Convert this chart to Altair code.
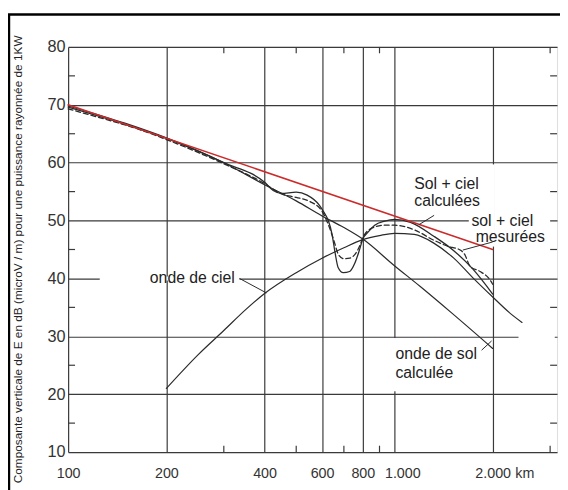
import altair as alt
import pandas as pd

# ---------------- data ----------------
x_ticks = [100, 200, 400, 600, 800, 1000, 2000]
y_ticks = [10, 20, 30, 40, 50, 60, 70, 80]

# red reference line
red_km = [100, 2000]
red_db = [70.0, 45.0]

# onde de sol calculée (ground wave)
sol_km = [100, 150, 200, 300, 400, 500, 600, 700, 800, 1000, 1200, 1500, 2000]
sol_db = [69.8, 66.8, 64.3, 60.0, 56.2, 53.4, 50.8, 48.8, 46.8, 42.2, 38.6, 34.0, 27.9]

# onde de ciel (sky wave)
ciel_km = [200, 250, 300, 350, 400, 500, 600, 700, 800, 900, 1000, 1150, 1320, 1520, 1740, 2000, 2250, 2460]
ciel_db = [21.0, 26.8, 31.0, 34.6, 37.4, 41.0, 43.5, 45.3, 46.7, 47.4, 47.8, 47.6, 46.1, 43.5, 40.1, 36.8, 34.1, 32.4]

# sol + ciel calculées
calc_km = [100, 150, 200, 300, 400, 425, 450, 500, 540, 590, 607, 627, 643, 658, 672, 697, 729, 757, 781,
           800, 830, 870, 934, 1000, 1120, 1320, 1520, 1740, 2000]
calc_db = [69.6, 66.6, 64.2, 60.0, 56.6, 55.2, 54.7, 54.9, 54.4, 52.6, 51.5, 50.0, 47.8, 44.4, 41.9, 41.0, 41.2,
           42.7, 44.9, 46.8, 48.0, 49.2, 49.9, 50.2, 49.7, 47.3, 44.8, 41.6, 37.3]

# sol + ciel mesurées (dashed)
mes_km = [100, 130, 160, 200, 300, 400, 450, 500, 550, 600, 630, 652, 674, 700, 730, 760, 781, 803, 847, 934,
          1000, 1150, 1320, 1450, 1590, 1640, 1705, 1830, 1960, 2000]
mes_db = [69.3, 67.5, 66.0, 64.0, 59.8, 56.4, 54.6, 54.0, 53.3, 51.6, 49.0, 46.6, 44.1, 43.4, 43.5, 44.3, 45.5,
          47.2, 48.6, 49.2, 49.2, 48.4, 46.6, 45.6, 44.9, 44.2, 42.1, 41.2, 39.8, 39.0]

# annotations
label_text = ["onde de ciel", "Sol + ciel", "calculées", "sol + ciel", "mesurées", "onde de sol", "calculée"]
label_km = [178, 1150, 1150, 1722, 1774, 1007, 1007]
label_db = [40.0, 56.3, 53.3, 49.9, 47.1, 27.0, 23.6]

# leader lines (from label to curve)
lead_km = [335, 1323, 2000, 1850]
lead_db = [40.0, 50.9, 46.3, 27.6]
lead_km2 = [405, 1190, 1620, 1985]
lead_db2 = [37.5, 49.3, 44.9, 29.2]

# minor ticks
minor_x = [300, 500, 700, 900, 3000]
minor_y = [15, 25, 35, 45, 55, 65, 75]

X_MIN, X_MAX = 100, 3150
Y_MIN, Y_MAX = 10, 80

INK = "#2a2a2a"
FONT = "Liberation Sans"

xscale = alt.Scale(type="log", domain=[X_MIN, X_MAX], nice=False)
yscale = alt.Scale(domain=[Y_MIN, Y_MAX], nice=False, zero=False)

xaxis = alt.Axis(values=x_ticks,
                 labelExpr="datum.value >= 1000 ? format(datum.value/1000, 'd') + '.000' : format(datum.value, 'd')",
                 grid=True, ticks=False, domain=False, labelFontSize=14.5, labelColor="#333",
                 labelPadding=15, labelFont=FONT, labelOverlap=False, labelFlush=False,
                 labelOffset={"condition": {"test": "datum.value == 1000", "value": 8}, "value": 0},
                 gridColor="#3a3a3a", gridWidth=1.2, title=None)
ytitle = "Composante verticale de E en dB (microV / m) pour une puissance rayonnée de 1KW"
yaxis = alt.Axis(values=y_ticks, grid=True, ticks=False, domain=False, labelFontSize=16.5,
                 labelColor="#333", labelFont=FONT, labelPadding=3,
                 gridColor="#3a3a3a", gridWidth=1.2,
                 title=ytitle, titleFont=FONT, titleFontSize=12, titleFontWeight="normal",
                 titleColor="#222", titleX=-51, titleY=215, titleAngle=270,
                 titleBaseline="middle", titleAlign="center")

X = alt.X("km:Q", scale=xscale, axis=xaxis)
Y = alt.Y("db:Q", scale=yscale, axis=yaxis)
X2 = alt.X2("km2:Q")
Y2 = alt.Y2("db2:Q")


def curve(km, db, **kw):
    df = pd.DataFrame({"km": km, "db": db})
    return alt.Chart(df).mark_line(interpolate="monotone", strokeCap="round", **kw).encode(x=X, y=Y)


def rules(km, db, km2, db2, **kw):
    df = pd.DataFrame({"km": km, "db": db, "km2": km2, "db2": db2})
    return alt.Chart(df).mark_rule(**kw).encode(x=X, y=Y, x2=X2, y2=Y2)


# white masks where labels interrupt grid lines
mask = rules([125, 1690, 2000, 1000, 2400], [40, 50, 45.5, 20.5, 30],
             [335, 3000, 2000, 1000, 3100], [40, 50, 59.7, 29.7, 30],
             color="white", strokeWidth=4)

# minor ticks (inside the frame)
tick_km = minor_x + minor_x + [X_MIN] * len(minor_y) + [3000] * len(minor_y)
tick_db = [10] * len(minor_x) + [80] * len(minor_x) + minor_y + minor_y
tick_km2 = minor_x + minor_x + [105] * len(minor_y) + [X_MAX] * len(minor_y)
tick_db2 = [11.1] * len(minor_x) + [78.9] * len(minor_x) + minor_y + minor_y
ticks = rules(tick_km, tick_db, tick_km2, tick_db2, color="#3a3a3a", strokeWidth=1.2)

sol = curve(sol_km, sol_db, color=INK, strokeWidth=1.2)
ciel = curve(ciel_km, ciel_db, color=INK, strokeWidth=1.2)
calc = curve(calc_km, calc_db, color=INK, strokeWidth=1.3)
mes = curve(mes_km, mes_db, color=INK, strokeWidth=1.3, strokeDash=[5, 3])
red = curve(red_km, red_db, color="#cc2b2b", strokeWidth=1.5)

leaders = rules(lead_km, lead_db, lead_km2, lead_db2, color=INK, strokeWidth=1)

labels = alt.Chart(pd.DataFrame({"km": label_km, "db": label_db, "t": label_text})).mark_text(
    align="left", baseline="middle", font=FONT, fontSize=16, color="#222"
).encode(x=X, y=Y, text="t:N")

km_unit = alt.Chart(pd.DataFrame({"km": [2000], "db": [10], "t": ["km"]})).mark_text(
    align="left", baseline="top", font=FONT, fontSize=14.5, color="#333", dx=23, dy=15
).encode(x=X, y=Y, text="t:N")

# outer scanned-page frame (left and top edges)
frame_left = alt.Chart(pd.DataFrame({"a": [0]})).mark_rule(color="black", strokeWidth=2.5).encode(
    x=alt.value(-60), y=alt.value(-33), y2=alt.value(450))
frame_top = alt.Chart(pd.DataFrame({"a": [0]})).mark_rule(color="black", strokeWidth=2.5).encode(
    x=alt.value(-61), x2=alt.value(505), y=alt.value(-33))

chart = alt.layer(
    mask, ticks, sol, ciel, mes, calc, red, leaders, labels, km_unit, frame_left, frame_top
).properties(
    width=496, height=411,
    autosize=alt.AutoSizeParams(type="none"),
    padding={"left": 61, "top": 36, "right": 3, "bottom": 35},
).configure_view(
    stroke="#333", strokeWidth=1.3
).configure(background="white")

chart.save("out.html", embed_options={"renderer": "svg", "actions": False})
